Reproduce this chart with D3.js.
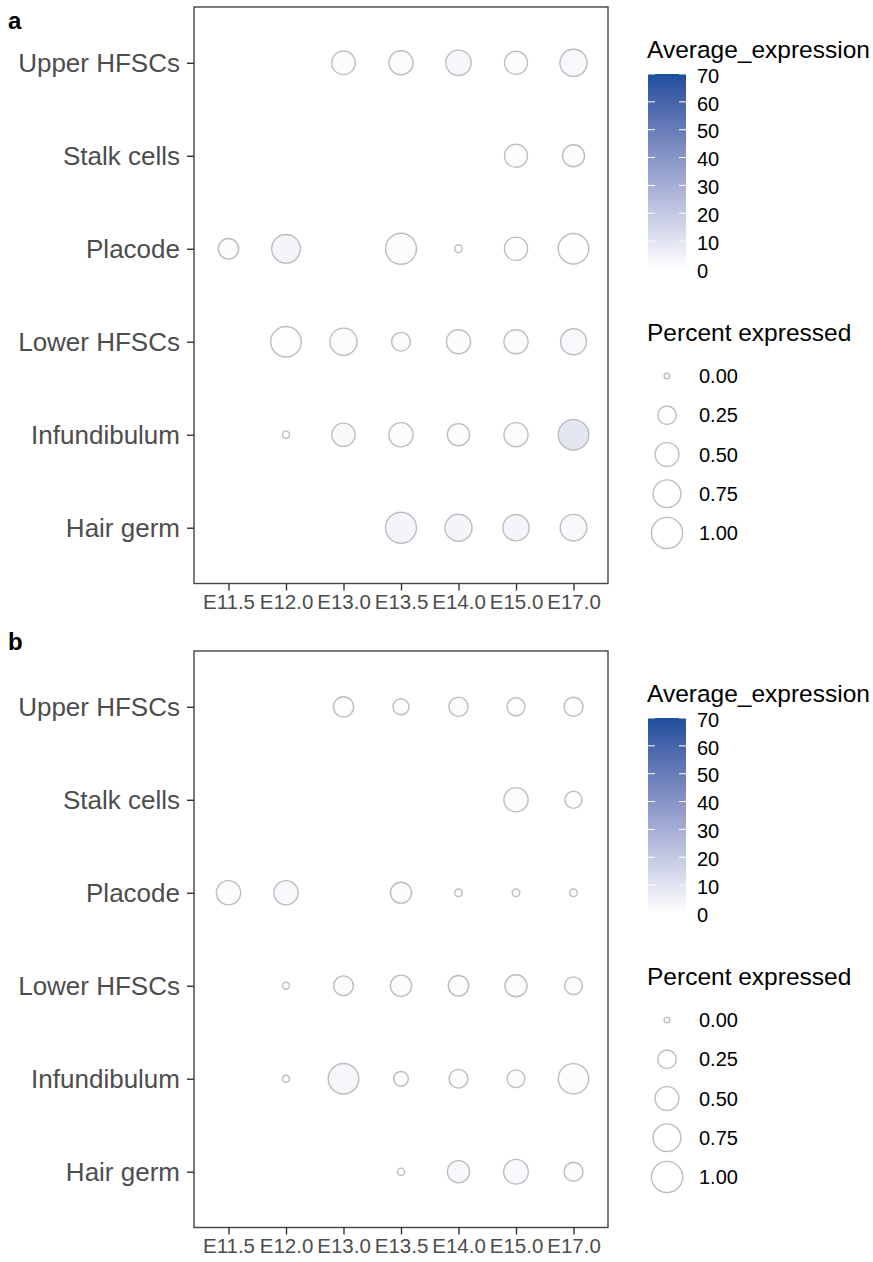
<!DOCTYPE html>
<html>
<head>
<meta charset="utf-8">
<script src="https://cdn.jsdelivr.net/npm/d3@7"></script>
<style>
  html, body { margin: 0; padding: 0; background: #fff; }
  svg { display: block; font-family: "Liberation Sans", Arial, Helvetica, sans-serif; }
</style>
</head>
<body>
<svg id="chart" width="873" height="1262"></svg>
<script>
// ---- data ----
const timepoints = ["E11.5", "E12.0", "E13.0", "E13.5", "E14.0", "E15.0", "E17.0"];
const cellTypes = ["Upper HFSCs", "Stalk cells", "Placode", "Lower HFSCs", "Infundibulum", "Hair germ"];

// panel a: percent expressed (rows = cellTypes, cols = timepoints; null = no dot)
const pctA = [
  [null, null, 0.49, 0.52, 0.59, 0.46, 0.71],
  [null, null, null, null, null, 0.46, 0.41],
  [0.33, 0.81, null, 0.98, 0.005, 0.47, 0.95],
  [null, 0.95, 0.71, 0.26, 0.52, 0.52, 0.63],
  [null, 0.003, 0.47, 0.53, 0.42, 0.52, 0.95],
  [null, null, null, 0.98, 0.70, 0.65, 0.67]
];
// panel a: average expression
const expA = [
  [null, null, 1, 1.5, 3, 1, 2.5],
  [null, null, null, null, null, 1, 1],
  [1, 3.5, null, 1.5, 0, 0.5, 0.5],
  [null, 0.5, 1.5, 1, 1, 1.5, 2.5],
  [null, 0, 2, 1, 1, 1.5, 9],
  [null, null, null, 3.5, 3.5, 3.5, 2.5]
];
// panel b: percent expressed
const pctB = [
  [null, null, 0.32, 0.16, 0.28, 0.23, 0.27],
  [null, null, null, null, null, 0.53, 0.20],
  [0.53, 0.53, null, 0.36, 0.005, 0.005, 0.005],
  [null, 0.002, 0.30, 0.37, 0.33, 0.41, 0.22],
  [null, 0.002, 0.95, 0.12, 0.26, 0.22, 0.93],
  [null, null, null, 0.003, 0.42, 0.55, 0.27]
];
// panel b: average expression
const expB = [
  [null, null, 0.5, 0.5, 1, 0.5, 0.5],
  [null, null, null, null, null, 1.5, 0.5],
  [1, 2.5, null, 1, 0, 0, 0],
  [null, 0, 1, 1.5, 1, 1.5, 1],
  [null, 0, 3, 1, 1, 1, 1],
  [null, null, null, 0, 2.5, 2.5, 1.5]
];
const colorTicks = [0, 10, 20, 30, 40, 50, 60, 70];
const sizeTicks = [0.00, 0.25, 0.50, 0.75, 1.00];
const panelLabels = ["a", "b"];
const colorTitle = "Average_expression";
const sizeTitle = "Percent expressed";

// ---- scales ----
const color = d3.scaleLinear().domain([0, 70]).range(["#ffffff", "#1b4e9c"]).interpolate(d3.interpolateLab);
const rScale = d3.scaleSqrt().domain([0, 1]).range([2.9, 15.6]);

const svg = d3.select("#chart");
const defs = svg.append("defs");
const grad = defs.append("linearGradient").attr("id", "cbar").attr("x1", 0).attr("y1", 1).attr("x2", 0).attr("y2", 0);
d3.range(0, 71, 5).forEach(v => {
  grad.append("stop").attr("offset", v / 70).attr("stop-color", color(v));
});

const FONT = '"Liberation Sans", Arial, Helvetica, sans-serif';

function drawPanel(g, pct, exp, label) {
  const left = 194, right = 608, top = 0, bottom = 576.5;
  const x = d3.scalePoint().domain(timepoints).range([left, right]).padding(0.6);
  const y = d3.scalePoint().domain(cellTypes).range([top, bottom]).padding(0.6);

  // dots
  const cells = [];
  cellTypes.forEach((ct, i) => timepoints.forEach((tp, j) => {
    if (pct[i][j] !== null) cells.push({ct, tp, p: pct[i][j], e: exp[i][j]});
  }));
  g.append("g").selectAll("circle").data(cells).join("circle")
    .attr("cx", d => x(d.tp)).attr("cy", d => y(d.ct))
    .attr("r", d => rScale(d.p))
    .attr("fill", d => color(d.e))
    .attr("stroke", "#bdbdbd").attr("stroke-width", 1.4);

  // panel border
  g.append("rect").attr("x", left).attr("y", top).attr("width", right - left).attr("height", bottom - top)
    .attr("fill", "none").attr("stroke", "#444").attr("stroke-width", 1.4);

  // axes
  const xAxis = g.append("g").attr("transform", `translate(0,${bottom})`)
    .call(d3.axisBottom(x).tickSize(7).tickSizeOuter(0).tickPadding(4));
  xAxis.select(".domain").remove();
  xAxis.selectAll(".tick line").attr("stroke", "#333").attr("stroke-width", 1.4);
  xAxis.selectAll(".tick text").attr("fill", "#4d4d4d").style("font-size", "20.5px").style("font-family", FONT);

  const yAxis = g.append("g").attr("transform", `translate(${left},0)`)
    .call(d3.axisLeft(y).tickSize(7).tickSizeOuter(0).tickPadding(7));
  yAxis.select(".domain").remove();
  yAxis.selectAll(".tick line").attr("stroke", "#333").attr("stroke-width", 1.4);
  yAxis.selectAll(".tick text").attr("fill", "#4d4d4d").style("font-size", "26px").style("font-family", FONT);

  // colour legend
  const cx0 = 648, cw = 38, cTop = 67, cBot = 262;
  const cy = d3.scaleLinear().domain([0, 70]).range([cBot, cTop]);
  g.append("text").attr("x", 647).attr("y", 51).text(colorTitle)
    .style("font-size", "24.5px").attr("fill", "#000");
  g.append("rect").attr("x", cx0).attr("y", cy(70)).attr("width", cw).attr("height", cy(0) - cy(70))
    .attr("fill", "url(#cbar)");
  const ct = g.append("g");
  colorTicks.forEach(v => {
    ct.append("line").attr("x1", cx0).attr("x2", cx0 + 7).attr("y1", cy(v)).attr("y2", cy(v))
      .attr("stroke", "#fff").attr("stroke-width", 1);
    ct.append("line").attr("x1", cx0 + cw - 7).attr("x2", cx0 + cw).attr("y1", cy(v)).attr("y2", cy(v))
      .attr("stroke", "#fff").attr("stroke-width", 1);
    ct.append("text").attr("x", 697).attr("y", cy(v) + 1.5).attr("dy", "0.36em").text(v)
      .style("font-size", "20px").attr("fill", "#000");
  });

  // size legend
  g.append("text").attr("x", 647).attr("y", 334).text(sizeTitle)
    .style("font-size", "24.5px").attr("fill", "#000");
  const sy = d3.scalePoint().domain(sizeTicks).range([369, 526]);
  sizeTicks.forEach(v => {
    g.append("circle").attr("cx", 667).attr("cy", sy(v)).attr("r", rScale(v))
      .attr("fill", "none").attr("stroke", "#bdbdbd").attr("stroke-width", 1.4);
    g.append("text").attr("x", 699).attr("y", sy(v)).attr("dy", "0.36em").text(v.toFixed(2))
      .style("font-size", "20px").attr("fill", "#000");
  });
}

const gA = svg.append("g").attr("transform", "translate(0,7)");
drawPanel(gA, pctA, expA, panelLabels[0]);
const gB = svg.append("g").attr("transform", "translate(0,651)");
drawPanel(gB, pctB, expB, panelLabels[1]);

svg.append("text").attr("x", 8).attr("y", 29).text(panelLabels[0])
  .style("font-size", "24px").style("font-weight", "bold").attr("fill", "#000");
svg.append("text").attr("x", 8).attr("y", 650).text(panelLabels[1])
  .style("font-size", "24px").style("font-weight", "bold").attr("fill", "#000");
</script>
</body>
</html>
